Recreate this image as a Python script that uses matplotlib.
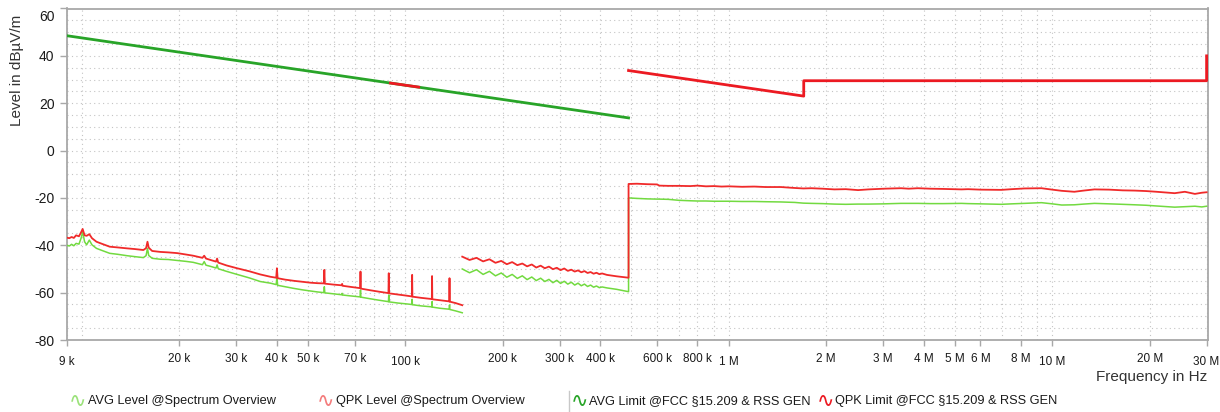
import matplotlib
matplotlib.use('Agg')
import matplotlib.pyplot as plt
import matplotlib.transforms as mtrans
from matplotlib.lines import Line2D
from matplotlib.ticker import FixedLocator, FixedFormatter, NullFormatter

plt.rcParams['font.family'] = ['Liberation Sans', 'DejaVu Sans']
plt.rcParams['axes.unicode_minus'] = False

# ---- data (frequency in kHz, level in dBuV/m) ----
# 9 kHz - 150 kHz sweep
lo_f = [9.0, 9.15, 9.3, 9.45, 9.6, 9.8, 9.95, 10.06, 10.2, 10.35, 10.55, 10.75, 11.1, 11.5,
        12.2, 12.9, 13.8, 14.6, 15.5, 15.8, 15.96, 16.1, 16.5, 17.5, 18.5, 19.7, 21.0, 22.1,
        23.6, 23.9, 24.2, 25.0, 26.0, 26.2, 26.4, 28.0, 30.2, 33.0, 35.6, 38.3, 39.9, 40.1,
        40.3, 42.5, 45.2, 48.0, 50.9, 53.5, 56.0, 56.2, 56.4, 60.0, 63.6, 63.8, 64.0, 68.0,
        72.5, 72.7, 72.9, 78.0, 83.0, 88.7, 88.9, 89.1, 95.0, 100.0, 104.8, 105.0, 105.2,
        112.0, 120.8, 121.0, 121.2, 128.0, 136.8, 137.0, 137.2, 143.0, 150.0]
qpk_lo = [-36.8, -37.0, -36.5, -36.9, -35.8, -36.2, -34.5, -33.1, -35.8, -36.0, -35.3, -37.0,
          -38.5, -39.3, -40.6, -40.9, -41.3, -41.6, -42.0, -41.2, -38.5, -41.0, -42.4, -42.8,
          -43.0, -43.3, -43.9, -44.4, -45.3, -44.4, -45.6, -46.2, -46.9, -45.6, -47.3, -48.5,
          -49.7, -51.0, -52.3, -53.3, -53.7, -49.7, -53.9, -54.5, -55.0, -55.4, -55.8, -56.0,
          -56.1, -50.4, -56.2, -56.6, -56.9, -56.3, -57.1, -57.6, -58.1, -51.1, -58.3, -59.0,
          -59.6, -60.2, -51.8, -60.3, -60.8, -61.2, -61.6, -52.5, -61.7, -62.2, -62.7, -53.0,
          -62.8, -63.2, -63.7, -53.9, -63.8, -64.4, -65.3]
avg_lo = [-40.0, -40.3, -39.6, -40.2, -39.2, -39.5, -37.0, -34.3, -38.5, -39.8, -37.8, -39.8,
          -41.3, -42.1, -43.4, -43.8, -44.4, -44.8, -45.2, -44.4, -41.3, -44.3, -45.5, -45.9,
          -46.0, -46.4, -46.8, -47.2, -48.2, -46.9, -48.4, -48.9, -49.6, -48.3, -49.9, -51.0,
          -52.3, -53.8, -55.3, -56.0, -56.6, -53.3, -56.9, -57.5, -58.2, -58.8, -59.3, -59.7,
          -60.0, -57.5, -60.1, -60.5, -60.9, -60.3, -61.0, -61.4, -61.8, -58.9, -61.9, -62.6,
          -63.2, -63.8, -61.0, -63.9, -64.4, -64.7, -65.0, -62.8, -65.1, -65.6, -66.0, -63.8,
          -66.1, -66.6, -67.0, -65.2, -67.1, -67.7, -68.5]

# 150 kHz - 30 MHz sweep
hi_f = [150, 158, 166, 174, 182, 190, 198, 206, 214, 222, 230, 238, 246, 254, 262, 270, 278,
        286, 294, 302, 310, 318, 326, 334, 342, 350, 358, 366, 374, 382, 390, 398, 406, 420,
        450, 490, 490, 520, 560, 600, 610, 650, 700, 760, 800, 850, 900, 950, 1000, 1100, 1200,
        1300, 1450, 1520, 1600, 1700, 1800, 1950, 2120, 2300, 2510, 2700, 3020, 3200, 3410,
        3600, 3840, 4200, 4600, 5240, 5490, 6000, 6960, 7500, 8200, 9260, 10000, 10700, 11700,
        12500, 13500, 15000, 16500, 18000, 19500, 21000, 23900, 25700, 27600, 29000, 30000]
qpk_hi = [-44.8, -46.2, -45.3, -46.8, -45.9, -47.4, -46.6, -48.0, -47.1, -48.4, -47.7, -48.9,
          -48.1, -49.4, -48.6, -49.7, -49.0, -50.1, -49.5, -50.5, -49.8, -50.8, -50.3, -51.1,
          -50.6, -51.4, -50.9, -51.7, -51.3, -52.0, -51.6, -52.2, -51.9, -52.5, -53.1, -53.7,
          -14.1, -14.0, -14.2, -14.3, -14.8, -14.9, -14.9, -15.0, -14.8, -15.1, -15.0, -15.2,
          -15.1, -15.3, -15.2, -15.4, -15.4, -15.6, -15.8, -16.0, -15.9, -16.1, -16.4, -16.3,
          -16.7, -16.4, -16.1, -16.0, -15.9, -16.1, -15.9, -16.1, -16.2, -16.4, -16.3, -16.5,
          -16.6, -16.3, -16.0, -15.9, -16.5, -17.0, -17.4, -16.9, -16.4, -16.5, -16.8, -16.9,
          -17.1, -17.4, -18.0, -17.4, -18.3, -17.8, -17.6]
avg_hi = [-50.0, -51.6, -50.3, -52.3, -51.0, -52.9, -51.7, -53.5, -52.3, -54.0, -52.9, -54.5,
          -53.4, -54.9, -53.9, -55.3, -54.4, -55.8, -54.8, -56.1, -55.2, -56.4, -55.6, -56.8,
          -56.0, -57.1, -56.4, -57.4, -56.8, -57.7, -57.2, -57.9, -57.6, -58.0, -58.6, -59.6,
          -20.0, -20.2, -20.4, -20.5, -20.5, -20.6, -21.0, -21.2, -21.3, -21.3, -21.4, -21.4,
          -21.4, -21.5, -21.5, -21.6, -21.7, -21.8, -21.9, -22.2, -22.3, -22.4, -22.6, -22.7,
          -22.6, -22.6, -22.5, -22.4, -22.3, -22.3, -22.3, -22.4, -22.4, -22.3, -22.4, -22.5,
          -22.7, -22.5, -22.3, -22.0, -22.5, -23.0, -22.9, -22.6, -22.3, -22.5, -22.7, -22.9,
          -23.1, -23.4, -23.9, -23.7, -23.5, -23.8, -23.5]

# FCC 15.209 limits
avg_lim_f = [9, 490]
avg_lim = [48.5, 13.8]
qpk_lim_f1 = [90, 110]
qpk_lim1 = [28.5, 26.8]
qpk_lim_f2 = [490, 1705, 1705, 30000, 30000]
qpk_lim2 = [33.8, 23.0, 29.5, 29.5, 40.0]

xtick_vals = [9, 20, 30, 40, 50, 70, 100, 200, 300, 400, 600, 800, 1000, 2000, 3000, 4000,
              5000, 6000, 8000, 10000, 20000, 30000]
xtick_text = ['9 k', '20 k', '30 k', '40 k', '50 k', '70 k', '100 k', '200 k', '300 k', '400 k',
              '600 k', '800 k', '1 M', '2 M', '3 M', '4 M', '5 M', '6 M', '8 M', '10 M', '20 M', '30 M']
xgrid_extra = [10, 60, 80, 90, 500, 700, 900, 7000, 9000]

legend_names = ['AVG Level @Spectrum Overview', 'QPK Level @Spectrum Overview',
                'AVG Limit @FCC §15.209 & RSS GEN', 'QPK Limit @FCC §15.209 & RSS GEN']

c_avg = '#72DA40'
c_qpk = '#F02A2A'
c_avg_lim = '#28A428'
c_qpk_lim = '#EC1A22'

W, H = 1220, 412
fig = plt.figure(figsize=(W / 100, H / 100), dpi=100)
ax = fig.add_axes([67 / W, 1 - 340 / H, (1208 - 67) / W, (340 - 8.5) / H])

khz = lambda v: [x * 1e3 for x in v]

ax.plot(khz(lo_f), avg_lo, color=c_avg, lw=1.1, zorder=3)
ax.plot(khz(hi_f), avg_hi, color=c_avg, lw=1.1, zorder=3)
ax.plot(khz(lo_f), qpk_lo, color=c_qpk, lw=1.3, zorder=4)
ax.plot(khz(hi_f), qpk_hi, color=c_qpk, lw=1.3, zorder=4)
ax.plot(khz(avg_lim_f), avg_lim, color=c_avg_lim, lw=2.0, zorder=5)
ax.plot(khz(qpk_lim_f1), qpk_lim1, color=c_qpk_lim, lw=2.0, zorder=6)
ax.plot(khz(qpk_lim_f2), qpk_lim2, color=c_qpk_lim, lw=2.0, zorder=6)

ax.set_xscale('log')
ax.set_xlim(9e3, 30.3e6)
ax.set_ylim(-80, 60)

ax.xaxis.set_major_locator(FixedLocator(khz(xtick_vals)))
ax.xaxis.set_major_formatter(FixedFormatter(xtick_text))
ax.xaxis.set_minor_locator(FixedLocator(khz(xgrid_extra)))
ax.xaxis.set_minor_formatter(NullFormatter())
ax.set_yticks(range(-80, 61, 20))
ax.set_yticks(range(-80, 61, 5), minor=True)

gray = '#A8A8A8'
ax.tick_params(axis='x', which='major', direction='out', length=4.5, width=1, color=gray,
               labelsize=8.5, pad=5, labelcolor='#1A1A1A')
ax.tick_params(axis='y', which='major', direction='out', length=5, width=1, color=gray,
               labelsize=10, pad=4, labelcolor='#1A1A1A')
ax.tick_params(which='minor', length=0)
ax.grid(True, which='both', color='#C4C4C4', lw=0.8, linestyle=(0, (1, 3)))
ax.set_axisbelow(True)
for s in ax.spines.values():
    s.set_color(gray)
    s.set_linewidth(1.3)

# decade labels sit a little lower, top y label is pushed inside
down = mtrans.ScaledTranslation(0, -3 / 100, fig.dpi_scale_trans)
for lbl in ax.get_xticklabels():
    if lbl.get_text() in ('9 k', '100 k', '1 M', '10 M', '30 M'):
        lbl.set_transform(lbl.get_transform() + down)
for lbl in ax.get_yticklabels():
    if lbl.get_text() in ('60',):
        lbl.set_transform(lbl.get_transform() + mtrans.ScaledTranslation(0, -7 / 100, fig.dpi_scale_trans))

fig.text(17 / W, 1 - 70 / H, 'Level in dBµV/m', rotation=90, ha='center', va='center',
         fontsize=11, color='#333333')
fig.text(1207 / W, 1 - 377 / H, 'Frequency in Hz', ha='right', va='center',
         fontsize=11, color='#333333')

# legend row
sym_x = [78, 326, 580, 826]
txt_x = [88, 336, 589, 835]
sym_c = ['#9BE27A', '#F47C7C', c_avg_lim, c_qpk_lim]
ly = 1 - 401 / H
for sx, tx, sc, name in zip(sym_x, txt_x, sym_c, legend_names):
    fig.text(sx / W, ly, '∿', color=sc, fontsize=15, ha='center', va='center',
             family=['DejaVu Sans'])
    fig.text(tx / W, ly, name, fontsize=9.2, ha='left', va='center', color='#1A1A1A')
fig.add_artist(Line2D([569 / W, 569 / W], [1 - 391 / H, 1 - 411 / H], color='#C8C8C8', lw=1))

fig.savefig('out.png', dpi=100)
